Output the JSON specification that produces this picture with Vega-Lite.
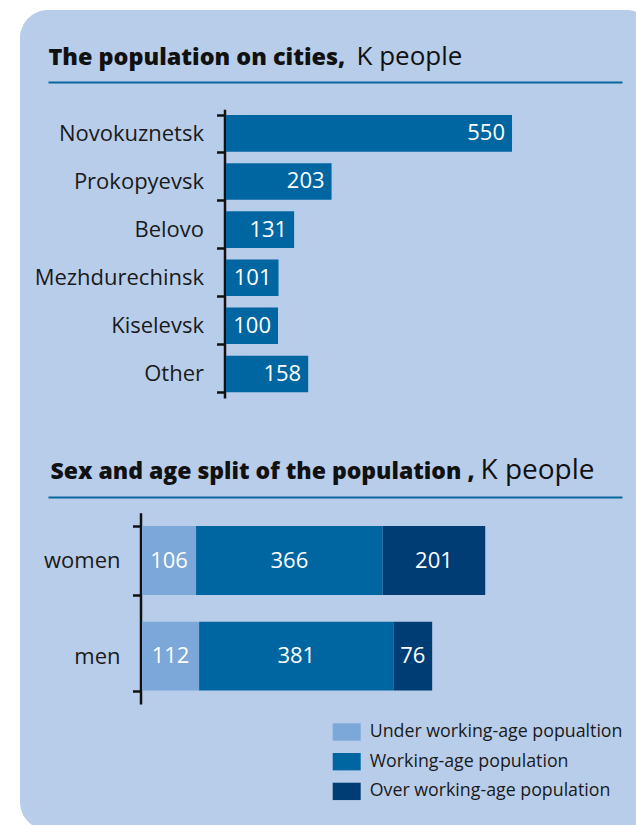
{
  "$schema": "https://vega.github.io/schema/vega-lite/v6.json",
  "width": 634,
  "height": 820,
  "padding": {"left": 20, "top": 10, "right": -18, "bottom": -5},
  "autosize": {"type": "none"},
  "background": "white",
  "config": {
    "font": "Open Sans",
    "view": {"fill": "#b8cdea", "stroke": null, "cornerRadius": 28}
  },
  "layer": [
    {
      "data": {"values": [
        {"city": "Novokuznetsk", "pop": 550},
        {"city": "Prokopyevsk", "pop": 203},
        {"city": "Belovo", "pop": 131},
        {"city": "Mezhdurechinsk", "pop": 101},
        {"city": "Kiselevsk", "pop": 100},
        {"city": "Other", "pop": 158}
      ]},
      "encoding": {
        "y": {
          "field": "city", "type": "nominal", "sort": null,
          "scale": {"range": [99.3, 388], "paddingInner": 0.24, "paddingOuter": 0.12},
          "axis": {
            "orient": "left", "offset": -204.5,
            "domainColor": "#111111", "domainWidth": 2.5,
            "tickColor": "#111111", "tickWidth": 2.5, "tickSize": 8, "tickBand": "extent",
            "labelFontSize": 22, "labelColor": "#1a1a1a", "labelPadding": 13,
            "title": "The population on cities,", "titleAngle": 0,
            "titleX": -176.5, "titleY": 54, "titleAlign": "left", "titleBaseline": "alphabetic",
            "titleFont": "Open Sans", "titleFontWeight": 800, "titleFontSize": 23.4, "titleColor": "#111111",
            "grid": false
          }
        }
      },
      "layer": [
        {
          "mark": {"type": "bar", "color": "#0066a1"},
          "encoding": {
            "x": {
              "field": "pop", "type": "quantitative",
              "scale": {"domain": [-342.3, 761.5], "range": [28, 602], "nice": false, "zero": false},
              "axis": {
                "orient": "top", "offset": -72,
                "domain": true, "domainColor": "#0b65a0", "domainWidth": 2,
                "ticks": false, "labels": false, "grid": false,
                "title": "K people", "titleX": 336, "titleY": -18,
                "titleAlign": "left", "titleBaseline": "alphabetic",
                "titleFontSize": 26, "titleFontWeight": "normal", "titleColor": "#111111"
              }
            },
            "x2": {"datum": 0}
          }
        },
        {
          "mark": {"type": "text", "align": "right", "baseline": "middle", "dx": -7, "color": "white", "fontSize": 22},
          "encoding": {
            "x": {"field": "pop", "type": "quantitative"},
            "text": {"field": "pop", "type": "quantitative"}
          }
        }
      ]
    },
    {
      "data": {"values": [
        {"sex": "women", "group": "Under working-age popualtion", "k": 1, "value": 106},
        {"sex": "women", "group": "Working-age population", "k": 2, "value": 366},
        {"sex": "women", "group": "Over working-age population", "k": 3, "value": 201},
        {"sex": "men", "group": "Under working-age popualtion", "k": 1, "value": 112},
        {"sex": "men", "group": "Working-age population", "k": 2, "value": 381},
        {"sex": "men", "group": "Over working-age population", "k": 3, "value": 76}
      ]},
      "transform": [
        {"stack": "value", "groupby": ["sex"], "sort": [{"field": "k"}], "as": ["v0", "v1"]}
      ],
      "encoding": {
        "y": {
          "field": "sex", "type": "nominal", "sort": ["women", "men"],
          "scale": {"range": [502.7, 694], "paddingInner": 0.28, "paddingOuter": 0.14},
          "axis": {
            "orient": "left", "offset": -120.5,
            "domainColor": "#111111", "domainWidth": 2.5,
            "tickColor": "#111111", "tickWidth": 2.5, "tickSize": 8, "tickBand": "extent",
            "labelFontSize": 22, "labelColor": "#1a1a1a", "labelPadding": 12.5,
            "title": "Sex and age split of the population ,", "titleAngle": 0,
            "titleX": -90.5, "titleY": 468, "titleAlign": "left", "titleBaseline": "alphabetic",
            "titleFont": "Open Sans", "titleFontWeight": 800, "titleFontSize": 23, "titleColor": "#111111",
            "grid": false
          }
        }
      },
      "layer": [
        {
          "mark": {"type": "bar"},
          "encoding": {
            "x": {
              "field": "v0", "type": "quantitative",
              "scale": {"domain": [-184.3, 941.2], "range": [28, 602], "nice": false, "zero": false},
              "axis": {
                "orient": "top", "offset": -487,
                "domain": true, "domainColor": "#0b65a0", "domainWidth": 2,
                "ticks": false, "labels": false, "grid": false,
                "title": "K people", "titleX": 460, "titleY": -19,
                "titleAlign": "left", "titleBaseline": "alphabetic",
                "titleFontSize": 28, "titleFontWeight": "normal", "titleColor": "#111111"
              }
            },
            "x2": {"field": "v1"},
            "color": {
              "field": "group", "type": "nominal",
              "scale": {
                "domain": ["Under working-age popualtion", "Working-age population", "Over working-age population"],
                "range": ["#7ba7d9", "#0066a1", "#003d75"]
              },
              "legend": {
                "orient": "none", "legendX": 312.7, "legendY": 708, "title": null, "padding": 0,
                "symbolType": "M-1,-0.62H1V0.62H-1Z", "symbolSize": 784, "symbolStrokeWidth": 0, "symbolOpacity": 1,
                "labelFontSize": 17.8, "labelColor": "#1a1a1a", "labelOffset": 9, "rowPadding": 6.7, "labelLimit": 400
              }
            }
          }
        },
        {
          "transform": [
            {"fold": ["v0", "v1"], "as": ["edge", "pos"]},
            {"aggregate": [{"op": "mean", "field": "pos", "as": "mid"}, {"op": "max", "field": "value", "as": "value"}], "groupby": ["sex", "group"]}
          ],
          "mark": {"type": "text", "align": "center", "baseline": "middle", "color": "white", "fontSize": 22},
          "encoding": {
            "x": {"field": "mid", "type": "quantitative"},
            "text": {"field": "value", "type": "quantitative"}
          }
        }
      ]
    }
  ],
  "resolve": {"scale": {"x": "independent", "y": "independent"}}
}
